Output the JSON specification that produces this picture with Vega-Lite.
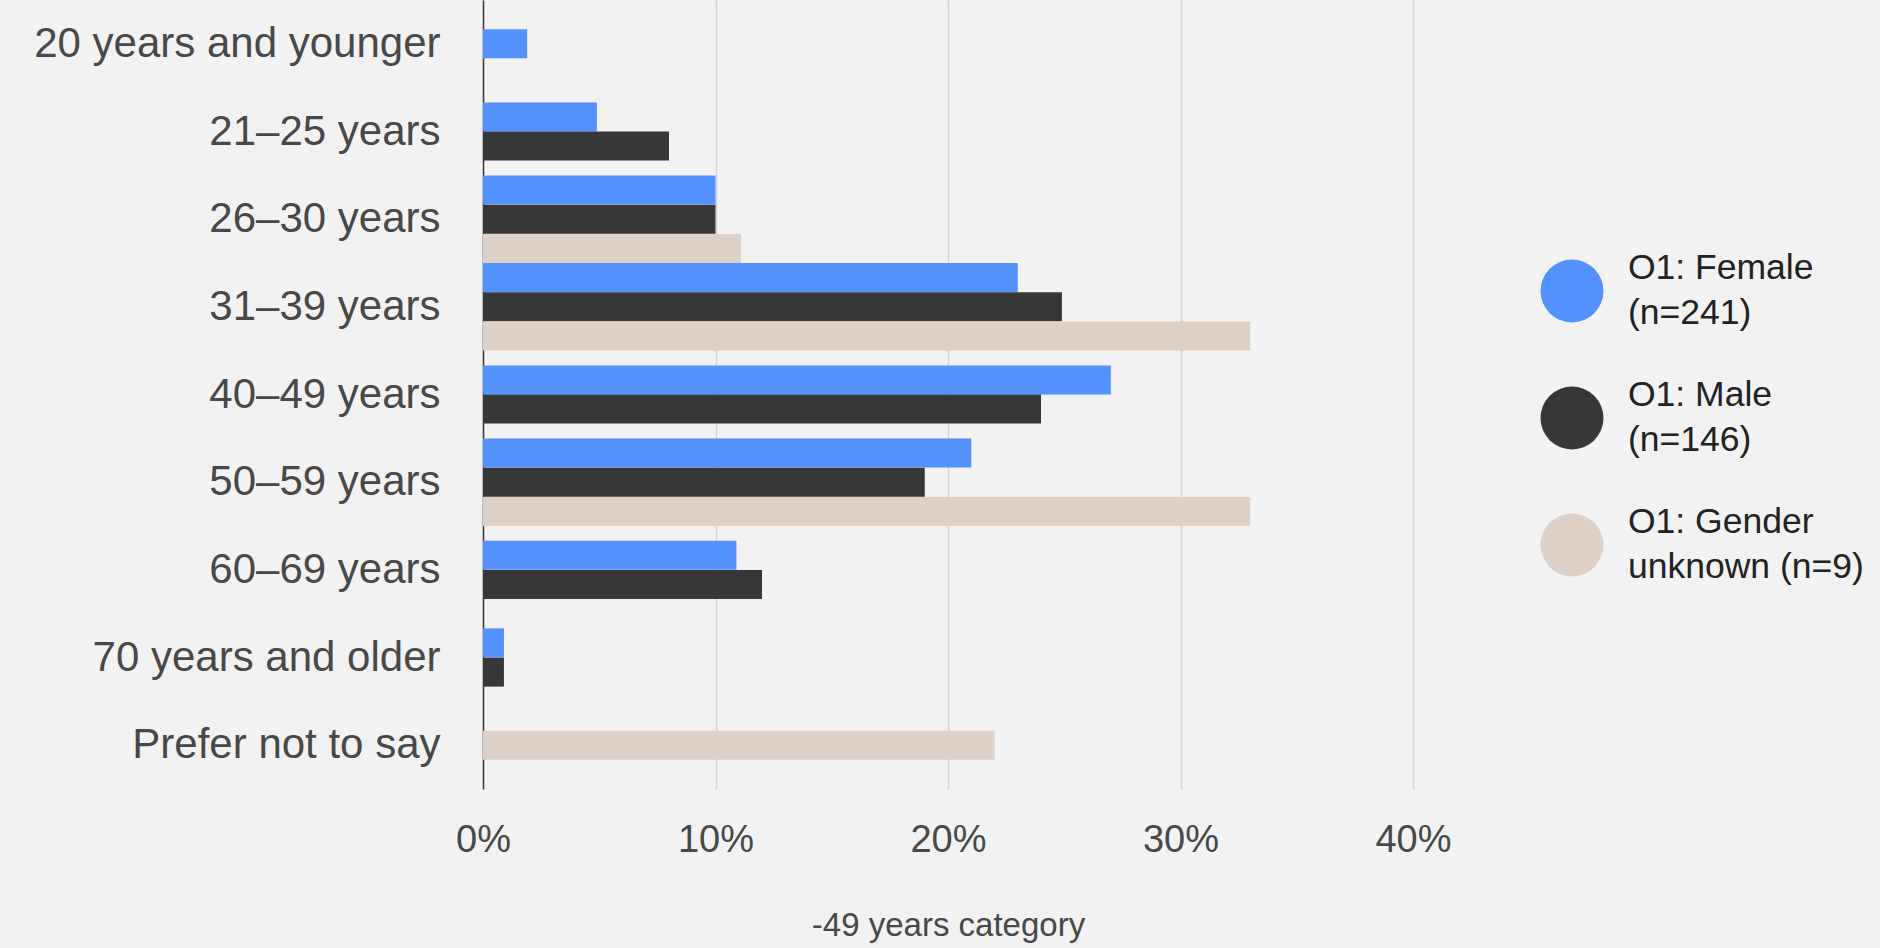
{
  "$schema": "https://vega.github.io/schema/vega-lite/v6.json",
  "width": 930,
  "height": 789,
  "autosize": {"type": "none"},
  "padding": {"left": 483, "top": 0, "right": 467, "bottom": 159},
  "background": "#f2f2f2",
  "config": {
    "view": {"stroke": null},
    "font": "Liberation Sans"
  },
  "data": {
    "values": [
      {"age": "20 years and younger", "gender": "O1: Female (n=241)", "value": 1.9},
      {"age": "21–25 years", "gender": "O1: Female (n=241)", "value": 4.9},
      {"age": "21–25 years", "gender": "O1: Male (n=146)", "value": 8.0},
      {"age": "26–30 years", "gender": "O1: Female (n=241)", "value": 10.0},
      {"age": "26–30 years", "gender": "O1: Male (n=146)", "value": 10.0},
      {"age": "26–30 years", "gender": "O1: Gender unknown (n=9)", "value": 11.1},
      {"age": "31–39 years", "gender": "O1: Female (n=241)", "value": 23.0},
      {"age": "31–39 years", "gender": "O1: Male (n=146)", "value": 24.9},
      {"age": "31–39 years", "gender": "O1: Gender unknown (n=9)", "value": 33.0},
      {"age": "40–49 years", "gender": "O1: Female (n=241)", "value": 27.0},
      {"age": "40–49 years", "gender": "O1: Male (n=146)", "value": 24.0},
      {"age": "50–59 years", "gender": "O1: Female (n=241)", "value": 21.0},
      {"age": "50–59 years", "gender": "O1: Male (n=146)", "value": 19.0},
      {"age": "50–59 years", "gender": "O1: Gender unknown (n=9)", "value": 33.0},
      {"age": "60–69 years", "gender": "O1: Female (n=241)", "value": 10.9},
      {"age": "60–69 years", "gender": "O1: Male (n=146)", "value": 12.0},
      {"age": "70 years and older", "gender": "O1: Female (n=241)", "value": 0.9},
      {"age": "70 years and older", "gender": "O1: Male (n=146)", "value": 0.9},
      {"age": "Prefer not to say", "gender": "O1: Gender unknown (n=9)", "value": 22.0}
    ]
  },
  "transform": [
    {"calculate": "indexof(['O1: Female (n=241)', 'O1: Male (n=146)', 'O1: Gender unknown (n=9)'], datum.gender)", "as": "k"},
    {"joinaggregate": [{"op": "count", "as": "n"}], "groupby": ["age"]},
    {"window": [{"op": "row_number", "as": "r"}], "groupby": ["age"], "sort": [{"field": "k", "order": "ascending"}]},
    {"calculate": "(3 - datum.n) + 2 * (datum.r - 1)", "as": "slot"}
  ],
  "mark": {"type": "bar", "height": 29},
  "encoding": {
    "y": {
      "field": "age",
      "type": "nominal",
      "sort": ["20 years and younger", "21–25 years", "26–30 years", "31–39 years", "40–49 years", "50–59 years", "60–69 years", "70 years and older", "Prefer not to say"],
      "scale": {"paddingInner": 0, "paddingOuter": 0},
      "axis": {
        "title": null,
        "domain": true,
        "domainColor": "#3a3a3a",
        "domainWidth": 1.5,
        "ticks": false,
        "labelFontSize": 42,
        "labelColor": "#484848",
        "labelPadding": 43,
        "labelLimit": 600
      }
    },
    "yOffset": {
      "field": "slot",
      "type": "ordinal",
      "scale": {"domain": [0, 1, 2, 3, 4], "paddingInner": 0, "paddingOuter": 0.5}
    },
    "x": {
      "field": "value",
      "type": "quantitative",
      "scale": {"domain": [0, 40], "nice": false},
      "axis": {
        "title": "-49 years category",
        "titleFontSize": 33,
        "titleFontWeight": "normal",
        "titleColor": "#484848",
        "titlePadding": 50,
        "values": [0, 10, 20, 30, 40],
        "labelExpr": "datum.value + '%'",
        "labelFlush": false,
        "labelFontSize": 38,
        "labelColor": "#484848",
        "labelPadding": 32,
        "domain": false,
        "ticks": false,
        "grid": true,
        "gridColor": "#d4d4d4",
        "gridWidth": 1.5
      }
    },
    "color": {
      "field": "gender",
      "type": "nominal",
      "scale": {
        "domain": ["O1: Female (n=241)", "O1: Male (n=146)", "O1: Gender unknown (n=9)"],
        "range": ["#5291fe", "#363739", "#ddd1c8"]
      },
      "legend": {
        "title": null,
        "orient": "none",
        "legendX": 1057,
        "legendY": 259,
        "symbolType": "circle",
        "symbolSize": 3970,
        "symbolStrokeWidth": 0,
        "symbolOpacity": 1,
        "labelFontSize": 35.5,
        "labelColor": "#222222",
        "labelOffset": 24,
        "labelLimit": 400,
        "rowPadding": 46,
        "labelExpr": "datum.label === 'O1: Female (n=241)' ? ['O1: Female', '(n=241)'] : datum.label === 'O1: Male (n=146)' ? ['O1: Male', '(n=146)'] : ['O1: Gender', 'unknown (n=9)']",
        "encode": {"labels": {"update": {"lineHeight": {"value": 45}, "dy": {"value": -23}}}}
      }
    }
  }
}
